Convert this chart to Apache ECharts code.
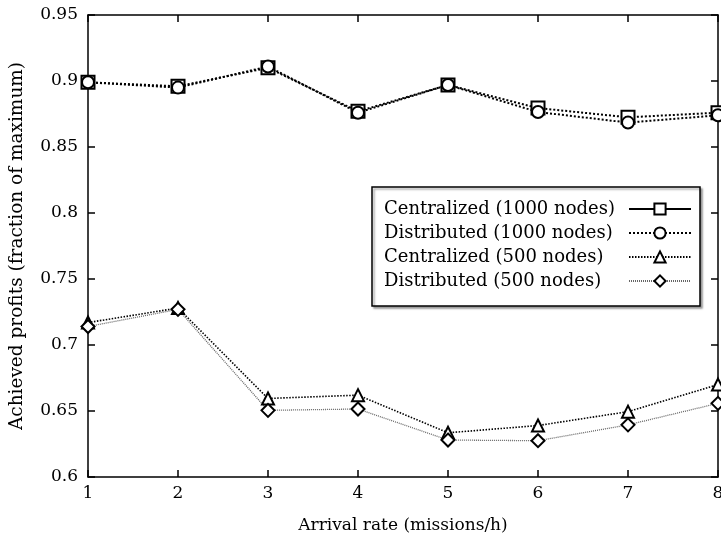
<!DOCTYPE html>
<html><head><meta charset="utf-8">
<script src="https://cdn.jsdelivr.net/npm/echarts@6/dist/echarts.min.js"></script>
<style>html,body{margin:0;padding:0;background:#fff}#c{width:721px;height:539px}</style>
</head><body><div id="c"></div>
<script>
const arrivalRates = [1, 2, 3, 4, 5, 6, 7, 8];
const centralized1000 = [0.899, 0.896, 0.910, 0.877, 0.897, 0.8795, 0.8725, 0.876];
const distributed1000 = [0.899, 0.895, 0.911, 0.876, 0.897, 0.8765, 0.8685, 0.874];
const centralized500 = [0.717, 0.728, 0.6595, 0.662, 0.6335, 0.639, 0.6495, 0.670];
const distributed500 = [0.714, 0.727, 0.6505, 0.6515, 0.628, 0.6275, 0.6395, 0.6558];
const seriesNames = ['Centralized (1000 nodes)', 'Distributed (1000 nodes)', 'Centralized (500 nodes)', 'Distributed (500 nodes)'];
const xTitle = 'Arrival rate (missions/h)';
const yTitle = 'Achieved profits (fraction of maximum)';

const FONT = 'DejaVu Serif';
const pairs = v => arrivalRates.map((x, i) => [x, v[i]]);
const chart = echarts.init(document.getElementById('c'), null, {renderer: 'canvas'});
const axisCommon = {
  axisLine: {lineStyle: {color: '#000', width: 1.5}},
  axisTick: {inside: true, length: 7, lineStyle: {color: '#000', width: 1.5}},
  splitLine: {show: false}
};
const mk = (name, data, symbol, lineStyle, size) => ({
  name, type: 'line', data: pairs(data), symbol, symbolSize: size,
  showSymbol: true,
  lineStyle,
  itemStyle: {color: '#fff', borderColor: '#000', borderWidth: 2},
  emphasis: {disabled: true}, z: 3
});
chart.setOption({
  animation: false,
  backgroundColor: '#fff',
  grid: {left: 88, right: 3, top: 15, bottom: 62, containLabel: false, outerBoundsMode: 'none'},
  xAxis: [
    Object.assign({type: 'value', min: 1, max: 8, interval: 1, position: 'bottom',
      name: xTitle, nameLocation: 'middle', nameGap: 40,
      nameTextStyle: {fontFamily: FONT, fontSize: 17, color: '#000'},
      axisLabel: {fontFamily: FONT, fontSize: 17, color: '#000', margin: 8}}, axisCommon),
    Object.assign({type: 'value', min: 1, max: 8, interval: 1, position: 'top',
      axisLabel: {show: false}}, axisCommon)
  ],
  yAxis: [
    Object.assign({type: 'value', min: 0.6, max: 0.95, interval: 0.05, position: 'left',
      name: yTitle, nameLocation: 'middle', nameGap: 61,
      nameTextStyle: {fontFamily: FONT, fontSize: 18.5, color: '#000'},
      axisLabel: {fontFamily: FONT, fontSize: 17, color: '#000', margin: 10}}, axisCommon),
    Object.assign({type: 'value', min: 0.6, max: 0.95, interval: 0.05, position: 'right',
      axisLabel: {show: false}}, axisCommon)
  ],
  legend: {
    orient: 'vertical', left: 372, top: 187,
    align: 'right',
    backgroundColor: '#fff', borderColor: '#000', borderWidth: 1.5,
    shadowColor: 'rgba(0,0,0,0.35)', shadowOffsetX: 2, shadowOffsetY: 2, shadowBlur: 2,
    padding: [13, 8, 16, 12], itemGap: 6,
    itemWidth: 62, itemHeight: 14,
    formatter: n => '{a|' + n + '}',
    textStyle: {fontFamily: FONT, fontSize: 18, color: '#000',
      rich: {a: {fontFamily: FONT, fontSize: 18, color: '#000', width: 240, align: 'left'}}},
    data: [
      {name: seriesNames[0], lineStyle: {type: 'solid', width: 2, color: '#000'}},
      {name: seriesNames[1]},
      {name: seriesNames[2]},
      {name: seriesNames[3]}
    ]
  },
  series: [
    mk(seriesNames[0], centralized1000, 'rect', {color: '#000', width: 2, type: [2, 2]}, 13),
    mk(seriesNames[1], distributed1000, 'circle', {color: '#000', width: 2, type: [2, 2]}, 12),
    mk(seriesNames[2], centralized500, 'triangle', {color: '#000', width: 1.6, type: [1.5, 1.5]}, 12),
    mk(seriesNames[3], distributed500, 'diamond', {color: '#666', width: 1.3, type: [1, 1]}, 13)
  ]
});
</script></body></html>
